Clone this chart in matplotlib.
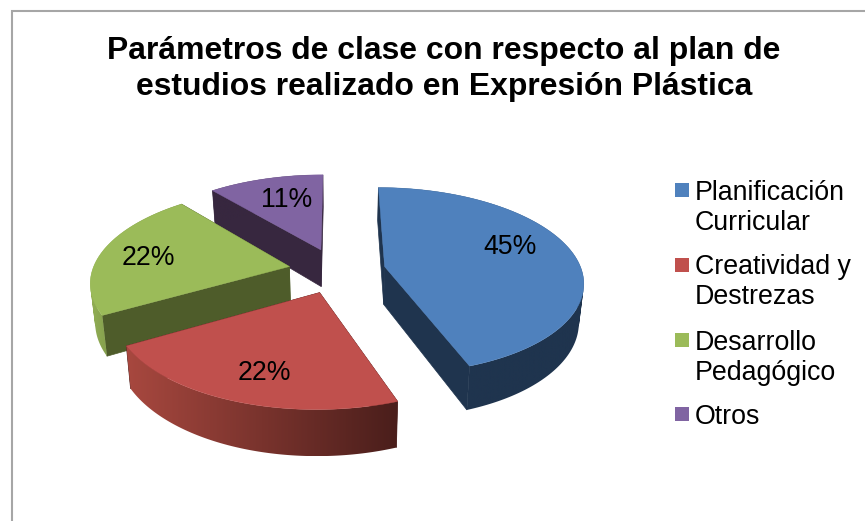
import numpy as np
import matplotlib
matplotlib.use('Agg')
import matplotlib.pyplot as plt
from matplotlib.colors import LinearSegmentedColormap
from matplotlib.patches import PathPatch, Polygon, Rectangle
from matplotlib.path import Path

plt.rcParams['font.family'] = ['Liberation Sans', 'DejaVu Sans']

title = 'Parámetros de clase con respecto al plan de\nestudios realizado en Expresión Plástica'
categories = ['Planificación\nCurricular', 'Creatividad y\nDestrezas', 'Desarrollo\nPedagógico', 'Otros']
values = [44.5, 22.2, 22.2, 11.1]
pct_labels = ['45%', '22%', '22%', '11%']

top_colors = ['#4F81BD', '#C0504D', '#9BBB59', '#8064A2']
face_colors = ['#1F344E', '#4A1E1B', '#4E5C2A', '#37273F']
arc_right = ['#1F344E', '#4A1E1B', '#4E5C2A', '#37273F']
arc_left = ['#1F344E', '#A8483F', '#92AF55', '#37273F']
label_pos = [(510, 247), (264, 373), (148, 258), (287, 200)]
legend_y = [190, 265, 340, 414]

# projection of the tilted pie, in pixels
cx, cy = 337, 270.5
rx, ry = 197, 92
persp = 0.15
explode = 0.247
depth = 38
shrink = 0.98


def project(X, Y):
    s = 1 / (1 + persp * Y)
    return cx + rx * X * s, cy - ry * Y * s, s


def bottom(X, Y):
    x, y, s = project(X, Y)
    return cx + (x - cx) * shrink, y + depth * s


def side_path(xt, yt, xb, yb):
    # one quad per step, all wound the same way, so the union stays filled
    verts = []
    codes = []
    for i in range(len(xt) - 1):
        q = np.array([(xt[i], yt[i]), (xt[i + 1], yt[i + 1]), (xb[i + 1], yb[i + 1]), (xb[i], yb[i])])
        area = np.sum(q[:, 0] * np.roll(q[:, 1], -1) - np.roll(q[:, 0], -1) * q[:, 1])
        if area < 0:
            q = q[::-1]
        verts.extend(list(q) + [q[0]])
        codes.extend([Path.MOVETO, Path.LINETO, Path.LINETO, Path.LINETO, Path.CLOSEPOLY])
    return Path(verts, codes)


def draw_slice(ax, start, end, top, face, left, right, z):
    mid = np.radians((start + end) / 2)
    ox, oy = explode * np.sin(mid), explode * np.cos(mid)
    th = np.radians(np.linspace(start, end, 160))
    X = ox + np.sin(th)
    Y = oy + np.cos(th)
    xt, yt, _ = project(X, Y)
    xb, yb = bottom(X, Y)
    ax0, ay0, _ = project(ox, oy)
    bx0, by0 = bottom(ox, oy)

    # flat sides
    ax.add_patch(Polygon([(ax0, ay0), (xt[0], yt[0]), (xb[0], yb[0]), (bx0, by0)], fc=face, ec=face, lw=0.5, zorder=z))
    ax.add_patch(Polygon([(ax0, ay0), (xt[-1], yt[-1]), (xb[-1], yb[-1]), (bx0, by0)], fc=face, ec=face, lw=0.5, zorder=z))

    # curved side, shaded left to right
    band = PathPatch(side_path(xt, yt, xb, yb), fc='none', ec='none', transform=ax.transData)
    ax.add_patch(band)
    cmap = LinearSegmentedColormap.from_list('side', [left, right])
    img = ax.imshow(np.linspace(0, 1, 256)[None, :], cmap=cmap, aspect='auto', zorder=z + 0.1,
                    extent=(xt.min(), xt.max(), yb.max(), yt.min()))
    img.set_clip_path(band)

    pts = [(ax0, ay0)] + list(zip(xt, yt))
    ax.add_patch(Polygon(pts, fc=top, ec=top, lw=0.3, zorder=z + 0.2))


fig = plt.figure(figsize=(8.65, 5.21), dpi=100)
ax = fig.add_axes([0, 0, 1, 1])
ax.axis('off')

# chart frame
ax.plot([11.5, 11.5, 865], [521, 10.5, 10.5], color='#A6A6A6', lw=1.5, solid_joinstyle='miter')

ax.text(444, 69, title, ha='center', va='center', fontsize=22.95, fontweight='bold', linespacing=1.26)

edges = np.concatenate([[0], np.cumsum(values)]) / sum(values) * 360
for z, i in enumerate([3, 2, 0, 1]):
    draw_slice(ax, edges[i], edges[i + 1], top_colors[i], face_colors[i], arc_left[i], arc_right[i], 2 + z)

for lab, (x, y) in zip(pct_labels, label_pos):
    ax.text(x, y, lab, ha='center', va='center', fontsize=19.2, color='black', zorder=10)

for name, col, y in zip(categories, top_colors, legend_y):
    ax.add_patch(Rectangle((675, y - 7), 14, 14, fc=col, ec='none'))
    n = name.count('\n')
    ax.text(695, y + 15 * n + 2.5, name, ha='left', va='center', fontsize=19.3, linespacing=1.2)

ax.set_xlim(0, 865)
ax.set_ylim(521, 0)

fig.savefig('out.png', dpi=100)
